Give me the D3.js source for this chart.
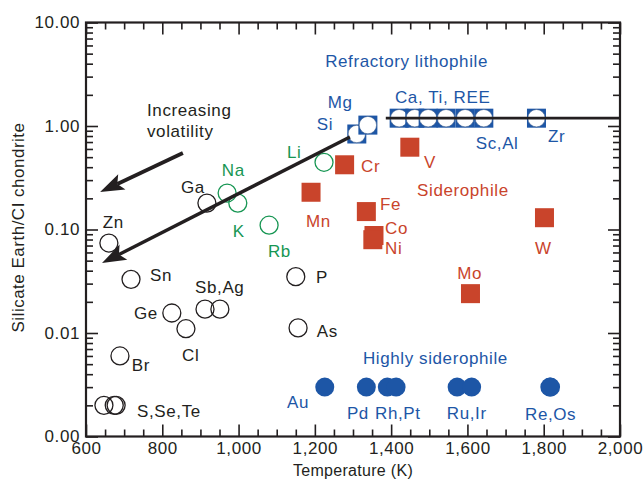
<!DOCTYPE html>
<html>
<head>
  <script src="https://d3js.org/d3.v7.min.js"></script>
  <style>
    body { margin: 0; background: #fff; }
    text { font-family: "Liberation Sans", Arial, Helvetica, sans-serif; }
  </style>
</head>
<body>
<svg id="chart" width="644" height="489"></svg>
<script>
  // Temperature (K) and silicate Earth / CI chondrite ratio for each group
  const volatileNames = ["Zn", "Sn", "Br", "S", "Se", "Te", "Ge", "Cl", "Sb", "Ag", "Ga", "P", "As"];
  const volatileT     = [660, 718, 689, 647, 674, 679, 825, 862, 912, 951, 917, 1150, 1156];
  const volatileV     = [0.074, 0.033, 0.006, 0.002, 0.002, 0.002, 0.0156, 0.011, 0.017, 0.017, 0.18, 0.035, 0.0112];

  const lithoNames = ["Na", "K", "Rb", "Li"];
  const lithoT     = [970, 998, 1080, 1224];
  const lithoV     = [0.225, 0.18, 0.11, 0.446];

  const refracNames = ["Si", "Mg", "Ca", "Ti", "REE", "REE", "Sc", "Al", "Zr"];
  const refracT     = [1310, 1339, 1421, 1462, 1497, 1544, 1594, 1643, 1781];
  const refracV     = [0.837, 1.02, 1.19, 1.19, 1.19, 1.19, 1.19, 1.19, 1.19];

  const sideroNames = ["Cr", "V", "Mn", "Fe", "Co", "Ni", "W", "Mo"];
  const sideroT     = [1278, 1449, 1190, 1335, 1355, 1352, 1802, 1608];
  const sideroV     = [0.422, 0.624, 0.229, 0.149, 0.0875, 0.0797, 0.130, 0.0240];

  const hsNames = ["Au", "Pd", "Rh", "Pt", "Ru", "Ir", "Re", "Os"];
  const hsT     = [1226, 1335, 1390, 1413, 1573, 1611, 1816, 1818];
  const hsV     = [0.003, 0.003, 0.003, 0.003, 0.003, 0.003, 0.003, 0.003];

  // trend lines: volatility trend and refractory plateau
  const trendT = [1292, 642];
  const trendV = [0.783, 0.0474];
  const plateauT = [1386, 2000];
  const plateauV = [1.19, 1.19];
  const arrowT = [854, 637];
  const arrowV = [0.548, 0.230];

  const xTicks = [600, 800, 1000, 1200, 1400, 1600, 1800, 2000];
  const yTicks = [0.001, 0.01, 0.1, 1, 10];

  // text annotations [text, T, v, colour]
  const labels = [
    ["Refractory lithophile", 1227, 3.72, "blue"],
    ["Ca, Ti, REE", 1410, 1.67, "blue"],
    ["Mg", 1234, 1.49, "blue"],
    ["Si", 1205, 0.914, "blue"],
    ["Sc,Al", 1622, 0.600, "blue"],
    ["Zr", 1811, 0.700, "blue"],
    ["Li", 1127, 0.491, "green"],
    ["Na", 956, 0.329, "green"],
    ["K", 985, 0.0848, "green"],
    ["Rb", 1077, 0.0542, "green"],
    ["Ga", 849, 0.2255, "black"],
    ["Zn", 644, 0.1033, "black"],
    ["Sn", 768, 0.0318, "black"],
    ["Sb,Ag", 886, 0.0243, "black"],
    ["Ge", 726, 0.01364, "black"],
    ["Cl", 852, 0.00535, "black"],
    ["Br", 720, 0.00430, "black"],
    ["S,Se,Te", 734, 0.00154, "black"],
    ["P", 1203, 0.0304, "black"],
    ["As", 1205, 0.00914, "black"],
    ["Cr", 1321, 0.360, "red"],
    ["V", 1486, 0.393, "red"],
    ["Siderophile", 1468, 0.211, "red"],
    ["Mn", 1177, 0.1057, "red"],
    ["Fe", 1371, 0.154, "red"],
    ["Co", 1384, 0.0906, "red"],
    ["Ni", 1384, 0.0579, "red"],
    ["W", 1777, 0.0579, "red"],
    ["Mo", 1573, 0.0333, "red"],
    ["Highly siderophile", 1326, 0.00501, "blue"],
    ["Au", 1127, 0.00188, "blue"],
    ["Pd", 1284, 0.001476, "blue"],
    ["Rh,Pt", 1358, 0.001476, "blue"],
    ["Ru,Ir", 1546, 0.001476, "blue"],
    ["Re,Os", 1751, 0.00144, "blue"],
    ["Increasing", 760, 1.25, "black"],
    ["volatility", 760, 0.783, "black"]
  ];

  const colors = { black: "#231f20", green: "#179653", blue: "#1d56a6", red: "#c9442b" };

  const svg = d3.select("#chart");
  const plotL = 86, plotR = 620, plotT = 22.5, plotB = 436.5;

  const x = d3.scaleLinear().domain([600, 2000]).range([plotL, plotR]);
  const y = d3.scaleLog().domain([0.001, 10]).range([plotB, plotT]);

  const xMinor = d3.range(600, 2001, 50).filter(d => d % 200 !== 0);
  const yMinor = [];
  for (let e = -3; e < 1; e++) for (let m = 2; m <= 9; m++) yMinor.push(m * Math.pow(10, e));

  // axes, ticks pointing inward
  function styleAxis(g) {
    g.select(".domain").remove();
    g.selectAll("line").attr("stroke", colors.black).attr("stroke-width", 1.6);
    g.selectAll("text").attr("fill", colors.black).style("font-size", "17px").style("letter-spacing", "0.6px");
  }

  svg.append("g").attr("transform", `translate(0,${plotB})`)
    .call(d3.axisBottom(x).tickValues(xTicks).tickSize(-12).tickPadding(5).tickFormat(d3.format(",")))
    .call(styleAxis);
  svg.append("g").attr("transform", `translate(0,${plotB})`)
    .call(d3.axisBottom(x).tickValues(xMinor).tickSize(-7).tickFormat(""))
    .call(styleAxis);
  svg.append("g").attr("transform", `translate(0,${plotT})`)
    .call(d3.axisTop(x).tickValues(xTicks).tickSize(-12).tickFormat(""))
    .call(styleAxis);
  svg.append("g").attr("transform", `translate(0,${plotT})`)
    .call(d3.axisTop(x).tickValues(xMinor).tickSize(-7).tickFormat(""))
    .call(styleAxis);

  svg.append("g").attr("transform", `translate(${plotL},0)`)
    .call(d3.axisLeft(y).tickValues(yTicks).tickSize(-12).tickPadding(6).tickFormat(d3.format(".2f")))
    .call(styleAxis);
  svg.append("g").attr("transform", `translate(${plotL},0)`)
    .call(d3.axisLeft(y).tickValues(yMinor).tickSize(-7).tickFormat(""))
    .call(styleAxis);
  svg.append("g").attr("transform", `translate(${plotR},0)`)
    .call(d3.axisRight(y).tickValues(yTicks).tickSize(-12).tickFormat(""))
    .call(styleAxis);
  svg.append("g").attr("transform", `translate(${plotR},0)`)
    .call(d3.axisRight(y).tickValues(yMinor).tickSize(-7).tickFormat(""))
    .call(styleAxis);

  // frame
  svg.append("rect")
    .attr("x", plotL).attr("y", plotT)
    .attr("width", plotR - plotL).attr("height", plotB - plotT)
    .attr("fill", "none").attr("stroke", colors.black).attr("stroke-width", 2.2);

  // axis titles
  svg.append("text")
    .attr("x", (plotL + plotR) / 2).attr("y", 476)
    .attr("text-anchor", "middle").attr("fill", colors.black)
    .style("font-size", "16px").style("letter-spacing", "0.3px")
    .text("Temperature (K)");
  svg.append("text")
    .attr("transform", `translate(24,${(plotT + plotB) / 2 - 2}) rotate(-90)`)
    .attr("text-anchor", "middle").attr("fill", colors.black)
    .style("font-size", "17px").style("letter-spacing", "0.5px")
    .text("Silicate Earth/CI chondrite");

  const zip = (ts, vs) => ts.map((t, i) => ({ t: t, v: vs[i] }));

  // open black circles (volatile)
  svg.append("g").selectAll("circle")
    .data(zip(volatileT, volatileV)).enter().append("circle")
    .attr("cx", d => x(d.t)).attr("cy", d => y(d.v)).attr("r", 9)
    .attr("fill", "none").attr("stroke", colors.black).attr("stroke-width", 1.3);

  // open green circles (moderately volatile lithophile)
  svg.append("g").selectAll("circle")
    .data(zip(lithoT, lithoV)).enter().append("circle")
    .attr("cx", d => x(d.t)).attr("cy", d => y(d.v)).attr("r", 9)
    .attr("fill", "none").attr("stroke", colors.green).attr("stroke-width", 1.3);

  // refractory lithophile: blue square with white circle
  const rg = svg.append("g").selectAll("g")
    .data(zip(refracT, refracV)).enter().append("g");
  rg.append("rect")
    .attr("x", d => x(d.t) - 9.5).attr("y", d => y(d.v) - 9.5)
    .attr("width", 19).attr("height", 19).attr("fill", colors.blue);
  rg.append("circle")
    .attr("cx", d => x(d.t)).attr("cy", d => y(d.v)).attr("r", 8.7)
    .attr("fill", "#fff").attr("stroke", "#3a5a8a").attr("stroke-width", 0.6);

  // siderophile: red squares
  svg.append("g").selectAll("rect")
    .data(zip(sideroT, sideroV)).enter().append("rect")
    .attr("x", d => x(d.t) - 9.5).attr("y", d => y(d.v) - 9.5)
    .attr("width", 19).attr("height", 19).attr("fill", colors.red);

  // highly siderophile: filled blue circles
  svg.append("g").selectAll("circle")
    .data(zip(hsT, hsV)).enter().append("circle")
    .attr("cx", d => x(d.t)).attr("cy", d => y(d.v)).attr("r", 9.5)
    .attr("fill", colors.blue);

  // lines
  const line = d3.line().x(d => x(d.t)).y(d => y(d.v));
  svg.append("path").datum(zip(plateauT, plateauV)).attr("d", line)
    .attr("fill", "none").attr("stroke", "#231f20").attr("stroke-width", 2.8);

  function arrow(ts, vs, width) {
    const pts = zip(ts, vs);
    const x0 = x(pts[0].t), y0 = y(pts[0].v), x1 = x(pts[1].t), y1 = y(pts[1].v);
    const dx = x1 - x0, dy = y1 - y0, len = Math.hypot(dx, dy);
    const ux = dx / len, uy = dy / len, px = -uy, py = ux;
    const hl = 24, hw = 8.5, notch = 5;
    const bx = x1 - ux * hl, by = y1 - uy * hl;
    svg.append("line")
      .attr("x1", x0).attr("y1", y0)
      .attr("x2", x1 - ux * (hl - notch)).attr("y2", y1 - uy * (hl - notch))
      .attr("stroke", "#231f20").attr("stroke-width", width);
    svg.append("path")
      .attr("d", `M${x1},${y1}L${bx + px * hw},${by + py * hw}L${x1 - ux * (hl - notch)},${y1 - uy * (hl - notch)}L${bx - px * hw},${by - py * hw}Z`)
      .attr("fill", "#231f20");
  }
  arrow(trendT, trendV, 3.4);
  arrow(arrowT, arrowV, 3.8);

  // labels
  svg.append("g").selectAll("text")
    .data(labels).enter().append("text")
    .attr("x", d => x(d[1])).attr("y", d => y(d[2]))
    .attr("fill", d => colors[d[3]])
    .style("font-size", "17px").style("letter-spacing", "0.6px")
    .text(d => d[0]);
</script>
</body>
</html>
